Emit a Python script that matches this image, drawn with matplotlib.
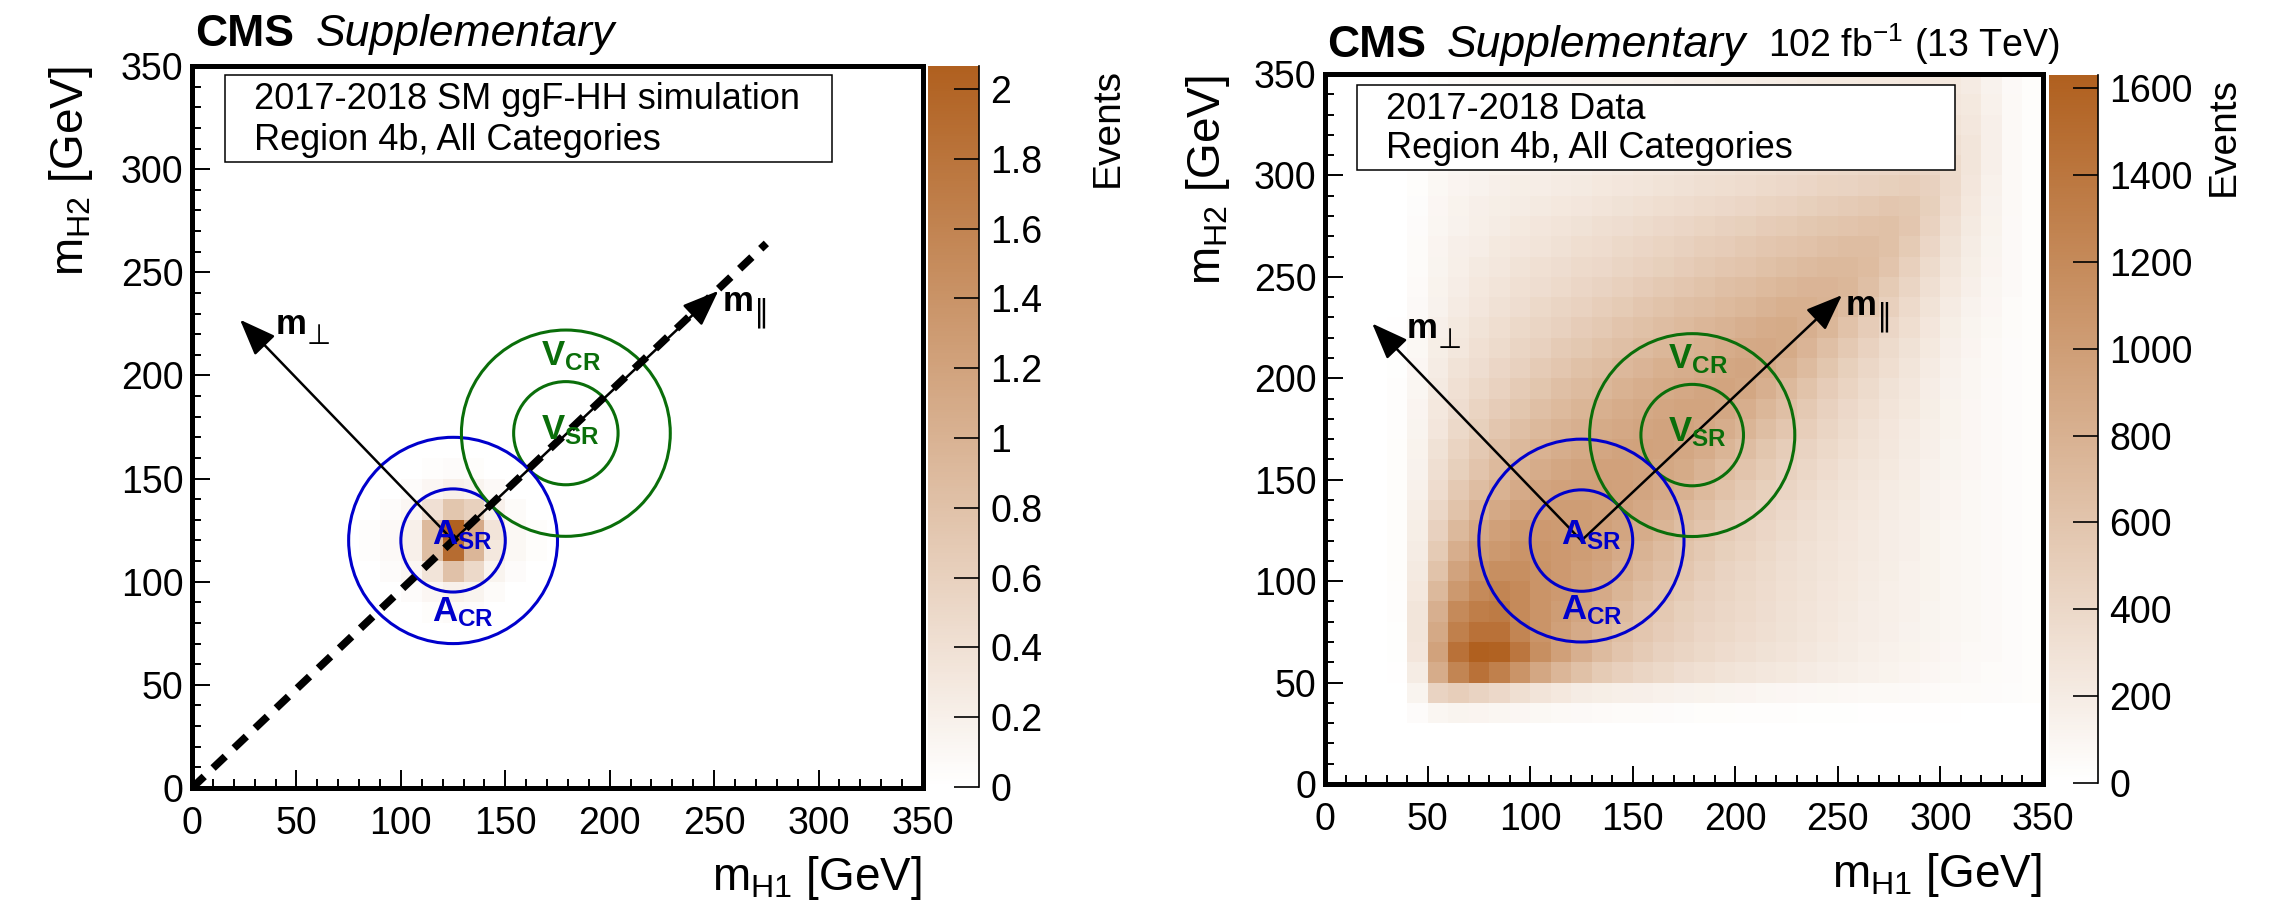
import matplotlib
matplotlib.use("Agg")
import matplotlib.pyplot as plt
import numpy as np
from matplotlib.colors import LinearSegmentedColormap
from matplotlib.patches import Circle, Rectangle
from matplotlib.ticker import FormatStrFormatter, MultipleLocator

plt.rcParams["font.family"] = ["Liberation Sans", "DejaVu Sans"]
plt.rcParams["mathtext.fontset"] = "custom"
plt.rcParams["mathtext.rm"] = "Liberation Sans"
plt.rcParams["mathtext.it"] = "Liberation Sans:italic"
plt.rcParams["mathtext.bf"] = "Liberation Sans:bold"

# 10 GeV bins in m_H1 / m_H2
bin_edges = [0, 10, 20, 30, 40, 50, 60, 70, 80, 90, 100, 110, 120, 130, 140, 150, 160, 170,
             180, 190, 200, 210, 220, 230, 240, 250, 260, 270, 280, 290, 300, 310, 320, 330,
             340, 350]

# SM ggF-HH simulation: bin centres (m_H1, m_H2) and events, non-empty bins only
sim_mh1 = [85, 95, 105, 115, 125, 135, 145, 155, 165,
           85, 95, 105, 115, 125, 135, 145, 155, 165,
           95, 105, 115, 125, 135, 145, 155,
           95, 105, 115, 125, 135, 145, 155,
           105, 115, 125, 135, 145,
           105, 115, 125, 135, 145,
           115, 125, 135,
           115, 125, 135]
sim_mh2 = [125] * 9 + [115] * 9 + [135] * 7 + [105] * 7 + [145] * 5 + [95] * 5 + [85] * 3 + [155] * 3
sim_events = [0.03, 0.08, 0.2, 0.9, 2.05, 1.1, 0.35, 0.1, 0.04,
              0.03, 0.08, 0.2, 0.85, 1.9, 0.95, 0.3, 0.1, 0.04,
              0.05, 0.12, 0.4, 0.75, 0.6, 0.2, 0.06,
              0.05, 0.12, 0.35, 0.8, 0.5, 0.15, 0.05,
              0.05, 0.12, 0.2, 0.15, 0.08,
              0.05, 0.12, 0.2, 0.15, 0.06,
              0.04, 0.06, 0.05,
              0.03, 0.05, 0.04]
sim_zmax = 2.066
sim_z_ticks = [0, 0.2, 0.4, 0.6, 0.8, 1.0, 1.2, 1.4, 1.6, 1.8, 2.0]

# 2017-2018 data, events per bin; rows m_H2 = 30..340, columns m_H1 = 30..340 (lower edges)
data_first_edge = 30
data_rows = [
    [0, 40, 100, 120, 110, 100, 90, 80, 70, 60, 55, 50, 45, 40, 35, 30, 30, 25, 20, 20, 18, 16, 14, 12, 10, 10, 8, 8, 6, 6, 5, 5],
    [0, 120, 450, 500, 450, 400, 330, 280, 240, 200, 180, 170, 160, 150, 140, 130, 120, 110, 100, 90, 85, 80, 75, 70, 65, 60, 55, 50, 45, 40, 35, 30],
    [10, 200, 850, 1250, 1450, 1300, 1100, 900, 750, 640, 540, 480, 430, 390, 350, 320, 290, 270, 250, 230, 210, 190, 170, 150, 130, 110, 90, 80, 60, 50, 40, 30],
    [15, 260, 950, 1450, 1630, 1610, 1400, 1150, 980, 820, 700, 600, 530, 470, 430, 390, 360, 330, 300, 280, 250, 220, 200, 170, 150, 130, 110, 90, 70, 60, 40, 30],
    [15, 270, 880, 1300, 1450, 1450, 1250, 1100, 980, 870, 760, 650, 580, 520, 470, 420, 390, 360, 330, 300, 270, 240, 210, 190, 160, 140, 120, 100, 80, 60, 40, 30],
    [20, 270, 820, 1200, 1320, 1350, 1200, 1100, 1000, 920, 820, 700, 620, 550, 490, 450, 410, 380, 350, 310, 280, 250, 220, 190, 170, 150, 120, 100, 80, 60, 40, 30],
    [20, 240, 720, 1050, 1200, 1250, 1200, 1100, 1040, 980, 870, 760, 670, 600, 530, 470, 430, 390, 360, 320, 290, 260, 230, 200, 170, 150, 130, 100, 80, 60, 40, 30],
    [30, 220, 620, 940, 1100, 1150, 1150, 1100, 1040, 980, 920, 820, 730, 650, 580, 510, 450, 410, 370, 330, 300, 270, 240, 210, 180, 150, 130, 100, 80, 60, 40, 30],
    [30, 200, 540, 830, 990, 1050, 1090, 1070, 1040, 1000, 950, 870, 780, 700, 620, 550, 490, 440, 390, 350, 310, 280, 250, 220, 190, 160, 130, 100, 80, 60, 40, 30],
    [30, 180, 470, 720, 880, 970, 1020, 1040, 1020, 1000, 970, 920, 850, 760, 670, 600, 530, 470, 420, 370, 330, 290, 260, 220, 190, 160, 130, 100, 80, 60, 40, 30],
    [30, 170, 410, 620, 770, 880, 940, 980, 1000, 1000, 980, 940, 890, 820, 730, 650, 570, 510, 450, 400, 350, 310, 270, 240, 200, 170, 140, 110, 80, 60, 40, 30],
    [30, 150, 360, 550, 680, 790, 870, 930, 960, 980, 980, 960, 920, 870, 800, 710, 630, 560, 490, 430, 380, 330, 290, 250, 210, 180, 140, 110, 80, 60, 40, 30],
    [30, 140, 330, 490, 610, 710, 790, 850, 900, 940, 960, 960, 940, 900, 860, 780, 690, 610, 540, 470, 410, 360, 310, 270, 230, 190, 150, 120, 90, 60, 40, 30],
    [30, 130, 300, 440, 550, 650, 720, 790, 840, 880, 910, 940, 950, 940, 900, 850, 760, 680, 590, 510, 450, 390, 340, 290, 250, 200, 160, 120, 90, 60, 40, 30],
    [25, 120, 260, 390, 490, 580, 660, 720, 780, 820, 860, 890, 920, 940, 940, 900, 840, 760, 670, 580, 500, 430, 370, 310, 260, 210, 170, 130, 90, 60, 40, 30],
    [25, 110, 240, 350, 440, 520, 590, 660, 710, 760, 810, 850, 880, 910, 930, 930, 900, 830, 740, 650, 560, 470, 400, 340, 280, 230, 180, 130, 90, 60, 40, 30],
    [20, 100, 220, 320, 390, 460, 530, 590, 650, 700, 740, 790, 830, 860, 890, 920, 930, 900, 820, 720, 620, 520, 440, 370, 300, 250, 190, 140, 100, 60, 40, 30],
    [15, 90, 200, 290, 350, 420, 470, 530, 580, 640, 680, 730, 770, 810, 840, 870, 900, 920, 880, 800, 700, 590, 490, 410, 340, 270, 210, 150, 100, 70, 40, 30],
    [10, 80, 180, 250, 320, 370, 430, 470, 530, 570, 620, 660, 700, 740, 780, 810, 850, 880, 890, 860, 770, 660, 550, 460, 370, 300, 230, 160, 110, 70, 40, 30],
    [10, 70, 160, 230, 290, 340, 390, 430, 470, 520, 560, 600, 640, 680, 710, 750, 780, 820, 850, 860, 820, 740, 630, 520, 420, 340, 260, 180, 120, 80, 50, 30],
    [5, 60, 140, 210, 260, 310, 350, 390, 430, 460, 500, 540, 580, 620, 650, 680, 710, 740, 780, 810, 810, 780, 700, 590, 480, 380, 290, 210, 140, 90, 50, 30],
    [5, 55, 130, 190, 240, 280, 320, 350, 380, 420, 450, 480, 520, 550, 580, 620, 650, 680, 710, 740, 770, 770, 740, 650, 540, 430, 330, 240, 160, 100, 60, 30],
    [0, 50, 120, 170, 220, 250, 290, 320, 350, 380, 400, 430, 460, 490, 520, 550, 580, 610, 640, 670, 700, 720, 720, 690, 600, 480, 370, 270, 180, 110, 60, 30],
    [0, 45, 110, 160, 190, 230, 260, 280, 310, 340, 360, 390, 420, 440, 470, 500, 520, 550, 580, 610, 630, 660, 680, 680, 640, 540, 420, 300, 200, 120, 60, 30],
    [0, 40, 100, 140, 170, 200, 230, 260, 280, 300, 330, 350, 370, 400, 420, 440, 470, 490, 520, 540, 570, 590, 610, 630, 640, 580, 460, 330, 220, 130, 60, 30],
    [0, 35, 90, 130, 160, 180, 200, 220, 240, 260, 280, 300, 320, 340, 360, 380, 400, 420, 440, 460, 490, 510, 530, 560, 580, 570, 490, 360, 240, 140, 70, 30],
    [0, 30, 80, 110, 140, 160, 180, 190, 210, 220, 240, 260, 270, 290, 310, 330, 340, 360, 380, 400, 420, 440, 450, 470, 490, 500, 470, 380, 260, 150, 70, 30],
    [0, 25, 70, 100, 120, 130, 150, 160, 180, 190, 210, 220, 240, 250, 270, 290, 300, 320, 330, 350, 360, 380, 390, 410, 420, 430, 420, 370, 270, 160, 70, 30],
    [0, 20, 60, 80, 100, 110, 120, 140, 150, 160, 180, 190, 200, 220, 230, 240, 260, 270, 280, 300, 310, 320, 330, 340, 350, 360, 360, 330, 270, 160, 70, 30],
    [0, 15, 50, 70, 80, 90, 100, 110, 120, 140, 150, 160, 170, 180, 190, 200, 210, 230, 240, 250, 260, 270, 280, 290, 300, 310, 310, 290, 250, 160, 70, 30],
    [0, 10, 40, 60, 70, 80, 90, 100, 110, 120, 130, 140, 150, 160, 170, 180, 190, 200, 210, 220, 230, 240, 250, 260, 260, 270, 270, 260, 230, 150, 70, 30],
    [0, 8, 30, 50, 60, 70, 80, 90, 100, 110, 120, 130, 140, 150, 160, 170, 180, 190, 200, 210, 220, 230, 230, 240, 240, 250, 250, 240, 210, 140, 60, 30],
]
data_zmax = 1630
data_z_ticks = [0, 200, 400, 600, 800, 1000, 1200, 1400, 1600]

# analysis regions (GeV)
a_center = (125, 120)
v_center = (179, 172)
region_radii = [25, 50]
perp_tip = (23, 227)
par_tip = (252, 241)
diag_end = (275, 264)

W, H = 2274, 905
BLUE = "#0000cc"
GREEN = "#0a6e0a"
cmap = LinearSegmentedColormap.from_list("root_brown", ["#ffffff", "#b0601f"])


def fx(x):
    return x / W


def fy(y):
    return 1 - y / H


def draw_panel(fig, ax, cax, counts, zmax, z_ticks):
    mesh = ax.pcolormesh(bin_edges, bin_edges, counts, cmap=cmap, vmin=0, vmax=zmax,
                         shading="flat", antialiased=False, linewidth=0)
    ax.set_xlim(0, 350)
    ax.set_ylim(0, 350)
    for axis in (ax.xaxis, ax.yaxis):
        axis.set_major_locator(MultipleLocator(50))
        axis.set_minor_locator(MultipleLocator(10))
    ax.tick_params(which="both", direction="in", top=False, right=False, width=1.4, labelsize=27)
    ax.tick_params(which="major", length=13)
    ax.tick_params(which="minor", length=6.5)
    ax.tick_params(axis="x", pad=13)
    ax.tick_params(axis="y", pad=6)
    for sp in ax.spines.values():
        sp.set_linewidth(3.6)

    for r in region_radii:
        ax.add_patch(Circle(a_center, r, fill=False, ec=BLUE, lw=2.2))
        ax.add_patch(Circle(v_center, r, fill=False, ec=GREEN, lw=2.2))

    arrow = dict(arrowstyle="-|>,head_length=0.9,head_width=0.35", color="k", lw=1.8,
                 shrinkA=0, shrinkB=0, mutation_scale=25)
    ax.annotate("", xy=perp_tip, xytext=a_center, arrowprops=arrow)
    ax.annotate("", xy=par_tip, xytext=a_center, arrowprops=arrow)
    ax.text(40, 220, "m", fontsize=25, fontweight="bold", ha="left", va="baseline")
    ax.text(55, 215, "\u22a5", fontsize=20, family="DejaVu Sans", ha="left", va="baseline")
    ax.text(254, 231, "m", fontsize=25, fontweight="bold", ha="left", va="baseline")
    ax.text(269, 226, "\u2225", fontsize=22, family="DejaVu Sans", ha="left", va="baseline")

    ax.text(167, 205, r"$\mathbf{V}_{\mathbf{CR}}$", color=GREEN, fontsize=25, ha="left", va="baseline")
    ax.text(167, 169, r"$\mathbf{V}_{\mathbf{SR}}$", color=GREEN, fontsize=25, ha="left", va="baseline")
    ax.text(115, 118, r"$\mathbf{A}_{\mathbf{SR}}$", color=BLUE, fontsize=25, ha="left", va="baseline")
    ax.text(115, 81, r"$\mathbf{A}_{\mathbf{CR}}$", color=BLUE, fontsize=25, ha="left", va="baseline")

    cb = fig.colorbar(mesh, cax=cax, ticks=z_ticks)
    cb.outline.set_visible(False)
    cb.minorticks_off()
    cax.yaxis.set_major_formatter(FormatStrFormatter("%g"))
    cax.tick_params(direction="in", length=18, width=1.2, labelsize=27, pad=8)
    cax.plot([1, 1], [0, 1], transform=cax.transAxes, color="k", lw=1.2, clip_on=False)
    return mesh


fig = plt.figure(figsize=(W / 100, H / 100), dpi=100)

# left: simulation
ax1 = fig.add_axes([fx(192), fy(788), (923 - 192) / W, (788 - 66) / H])
cax1 = fig.add_axes([fx(928), fy(787), 51 / W, (787 - 66) / H])
sim_hist, _, _ = np.histogram2d(sim_mh1, sim_mh2, bins=[bin_edges, bin_edges], weights=sim_events)
ax1.plot([0, diag_end[0]], [0, diag_end[1]], color="k", lw=5.5, linestyle=(0, (2.2, 1.6)), zorder=3)
draw_panel(fig, ax1, cax1, sim_hist.T, sim_zmax, sim_z_ticks)

# right: data
data_hist = np.zeros((len(bin_edges) - 1, len(bin_edges) - 1))
i0 = bin_edges.index(data_first_edge)
data_hist[i0:, i0:] = np.array(data_rows, dtype=float)
ax2 = fig.add_axes([fx(1325), fy(784), (2043 - 1325) / W, (784 - 74) / H])
cax2 = fig.add_axes([fx(2049), fy(783), 49 / W, (783 - 75) / H])
draw_panel(fig, ax2, cax2, data_hist, data_zmax, data_z_ticks)

# info boxes
fig.add_artist(Rectangle((fx(225), fy(162)), (832 - 225) / W, (162 - 75) / H,
                         transform=fig.transFigure, fc="white", ec="k", lw=1.1))
fig.text(fx(254), fy(109), "2017-2018 SM ggF-HH simulation", fontsize=26, va="baseline")
fig.text(fx(254), fy(150), "Region 4b, All Categories", fontsize=26, va="baseline")
fig.add_artist(Rectangle((fx(1357), fy(170)), (1955 - 1357) / W, (170 - 85) / H,
                         transform=fig.transFigure, fc="white", ec="k", lw=1.1))
fig.text(fx(1386), fy(119), "2017-2018 Data", fontsize=26, va="baseline")
fig.text(fx(1386), fy(158), "Region 4b, All Categories", fontsize=26, va="baseline")

# CMS labels
fig.text(fx(195), fy(46), "CMS", fontsize=32, fontweight="bold", va="baseline")
fig.text(fx(316), fy(46), "Supplementary", fontsize=32, fontstyle="italic", va="baseline")
fig.text(fx(1327), fy(57), "CMS", fontsize=32, fontweight="bold", va="baseline")
fig.text(fx(1447), fy(57), "Supplementary", fontsize=32, fontstyle="italic", va="baseline")
fig.text(fx(2060), fy(57), r"102 fb$^{-1}$ (13 TeV)", fontsize=27, ha="right", va="baseline")

# axis titles
for x_right, base, y_center, y_top in [(922, 890, 71, 66), (2042, 887, 1208, 75)]:
    fig.text(fx(x_right), fy(base), r"m$_{\mathrm{H1}}$ [GeV]", fontsize=33, ha="right", va="baseline")
    fig.text(fx(y_center), fy(y_top), r"m$_{\mathrm{H2}}$ [GeV]", fontsize=33, rotation=90,
             ha="center", va="top")
fig.text(fx(1108), fy(68), "Events", fontsize=28, rotation=90, ha="center", va="top")
fig.text(fx(2224), fy(77), "Events", fontsize=28, rotation=90, ha="center", va="top")

fig.savefig("out.png", dpi=100)
